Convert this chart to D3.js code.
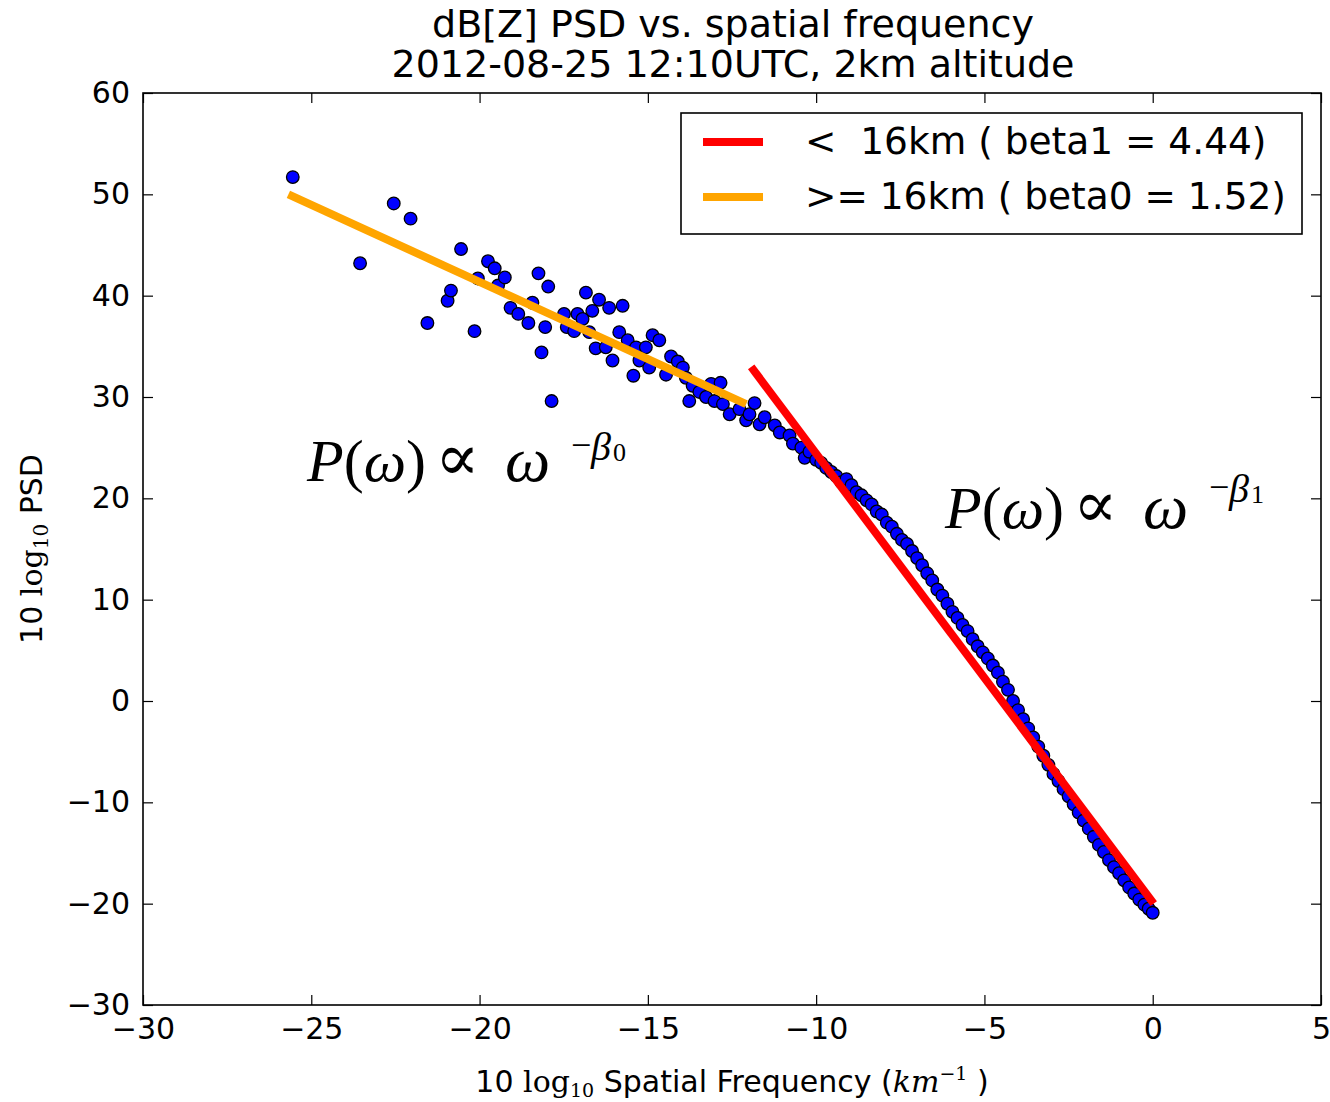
<!DOCTYPE html>
<html>
<head>
<meta charset="utf-8">
<script src="https://cdn.jsdelivr.net/npm/d3@7"></script>
<style>
  body { margin: 0; background: #fff; }
  svg text { font-family: "DejaVu Sans", sans-serif; fill: #000; }
</style>
</head>
<body>
<div id="chart"></div>
<script>
// 10 log10 spatial frequency (x) and 10 log10 PSD (y)
const freqDb = [
  -25.55, -23.55, -22.55, -22.05, -21.55, -20.95, -20.85, -20.55, -20.15, -20.05,
  -19.75, -19.55, -19.45, -19.25, -19.08, -18.85, -18.55, -18.43, -18.25, -18.16,
  -18.05, -17.96, -17.86, -17.49, -17.41, -17.19, -17.09, -16.94, -16.84, -16.74,
  -16.65, -16.55, -16.45, -16.25, -16.15, -16.05, -15.85, -15.75, -15.60, -15.43,
  -15.35, -15.25, -15.06, -14.96, -14.86, -14.66, -14.46, -14.31, -14.11, -13.96,
  -13.87, -13.77, -13.67, -13.47, -13.27, -13.12, -13.02, -12.84, -12.77, -12.57,
  -12.28, -12.08, -11.98, -11.83, -11.68, -11.53, -11.23, -11.08, -10.79, -10.69,
  -10.44, -10.34, -10.20, -10.00, -9.85, -9.70, -9.55, -9.40, -9.25, -9.10,
  -8.95, -8.80, -8.65, -8.50, -8.35, -8.20, -8.05, -7.90, -7.75, -7.60,
  -7.45, -7.30, -7.15, -7.00, -6.85, -6.70, -6.55, -6.40, -6.25, -6.10,
  -5.95, -5.80, -5.65, -5.50, -5.35, -5.20, -5.05, -4.90, -4.75, -4.60,
  -4.45, -4.30, -4.15, -4.00, -3.85, -3.70, -3.55, -3.40, -3.25, -3.10,
  -2.95, -2.80, -2.65, -2.50, -2.35, -2.20, -2.05, -1.90, -1.75, -1.60,
  -1.45, -1.30, -1.15, -1.00, -0.85, -0.70, -0.55, -0.40, -0.25, -0.12,
  0.00
];
const psdDb = [
  51.7, 43.2, 49.1, 47.6, 37.3, 39.5, 40.5, 44.6, 36.5, 41.7,
  43.4, 42.7, 41.0, 41.8, 38.8, 38.2, 37.3, 39.3, 42.2, 34.4,
  36.9, 40.9, 29.6, 38.2, 36.9, 36.5, 38.2, 37.7, 40.3, 36.4,
  38.5, 34.8, 39.6, 34.9, 38.8, 33.6, 36.4, 39.0, 35.6, 32.1,
  34.9, 33.6, 34.9, 32.9, 36.1, 35.6, 32.2, 34.0, 33.5, 32.9,
  31.9, 29.6, 31.1, 30.5, 30.0, 31.3, 29.6, 31.4, 29.3, 28.3,
  28.8, 27.7, 28.3, 29.4, 27.3, 28.0, 27.2, 26.5, 26.2, 25.4,
  25.0, 24.0, 24.6, 23.8, 23.5, 23.0, 22.6, 22.2, 21.6, 21.9,
  21.3, 20.6, 20.3, 19.8, 19.4, 18.7, 18.4, 17.6, 17.2, 16.5,
  15.9, 15.5, 14.8, 14.1, 13.4, 12.6, 11.9, 11.0, 10.4, 9.6,
  8.8, 8.2, 7.5, 6.9, 6.1, 5.4, 4.8, 4.2, 3.5, 2.8,
  1.9, 1.1, 0.0, -0.9, -1.8, -2.7, -3.6, -4.5, -5.4, -6.3,
  -7.2, -7.9, -8.7, -9.4, -10.2, -11.0, -11.8, -12.6, -13.4, -14.2,
  -14.9, -15.7, -16.4, -17.0, -17.7, -18.4, -19.0, -19.6, -20.1, -20.5,
  -20.9
];

// power-law fits: endpoints of each fitted segment
const fitLongX = [-25.68, -12.08];   // >= 16km, beta0
const fitLongY = [50.0, 29.3];
const fitShortX = [-11.93, 0.03];    // < 16km, beta1
const fitShortY = [32.97, -20.0];

const legendLabels = ["<  16km ( beta1 = 4.44)", ">= 16km ( beta0 = 1.52)"];
const legendColors = ["#ff0000", "#ffa500"];

const xTicks = [-30, -25, -20, -15, -10, -5, 0, 5];
const yTicks = [-30, -20, -10, 0, 10, 20, 30, 40, 50, 60];

const W = 1330, H = 1102;
const mLeft = 143, mRight = 1321, mTop = 93, mBottom = 1005;

const svg = d3.select("#chart").append("svg")
  .attr("width", W).attr("height", H);

const x = d3.scaleLinear().domain([-30, 5]).range([mLeft, mRight]);
const y = d3.scaleLinear().domain([-30, 60]).range([mBottom, mTop]);

const tickFont = g => g.selectAll("text").attr("font-size", 30).attr("font-family", "DejaVu Sans");
const tickLines = g => {
  g.select(".domain").remove();
  g.selectAll("line").attr("stroke", "#000").attr("stroke-width", 1.2);
};

svg.append("g").attr("transform", `translate(0,${mBottom})`)
  .call(d3.axisBottom(x).tickValues(xTicks).tickSize(-10).tickPadding(13))
  .call(tickLines).call(tickFont);
svg.append("g").attr("transform", `translate(0,${mTop})`)
  .call(d3.axisTop(x).tickValues(xTicks).tickSize(-10).tickFormat(""))
  .call(tickLines);
svg.append("g").attr("transform", `translate(${mLeft},0)`)
  .call(d3.axisLeft(y).tickValues(yTicks).tickSize(-10).tickPadding(13))
  .call(tickLines).call(tickFont);
svg.append("g").attr("transform", `translate(${mRight},0)`)
  .call(d3.axisRight(y).tickValues(yTicks).tickSize(-10).tickFormat(""))
  .call(tickLines);

// scatter
const pts = d3.zip(freqDb, psdDb);
svg.append("g").selectAll("circle")
  .data(pts)
  .join("circle")
  .attr("cx", d => x(d[0]))
  .attr("cy", d => y(d[1]))
  .attr("r", 6.3)
  .attr("fill", "#0000ff")
  .attr("stroke", "#000")
  .attr("stroke-width", 1.3);

// fit lines
const line = d3.line().x(d => x(d[0])).y(d => y(d[1]));
svg.append("path")
  .attr("d", line(d3.zip(fitShortX, fitShortY)))
  .attr("stroke", legendColors[0]).attr("stroke-width", 8).attr("fill", "none");
svg.append("path")
  .attr("d", line(d3.zip(fitLongX, fitLongY)))
  .attr("stroke", legendColors[1]).attr("stroke-width", 8).attr("fill", "none");

// frame
svg.append("rect")
  .attr("x", mLeft).attr("y", mTop)
  .attr("width", mRight - mLeft).attr("height", mBottom - mTop)
  .attr("fill", "none").attr("stroke", "#000").attr("stroke-width", 1.6);

// legend
const lg = svg.append("g");
lg.append("rect")
  .attr("x", 681).attr("y", 113).attr("width", 621).attr("height", 121)
  .attr("fill", "#fff").attr("stroke", "#000").attr("stroke-width", 1.6);
legendLabels.forEach((lab, i) => {
  const cy = 142 + i * 55;
  lg.append("line").attr("x1", 703).attr("x2", 763).attr("y1", cy).attr("y2", cy)
    .attr("stroke", legendColors[i]).attr("stroke-width", 8);
  lg.append("text").attr("x", 805).attr("y", cy + 12)
    .attr("font-size", 37.5).attr("xml:space", "preserve").text(lab);
});

// title
svg.append("text").attr("x", 733).attr("y", 37).attr("text-anchor", "middle")
  .attr("font-size", 38).text("dB[Z] PSD vs. spatial frequency");
svg.append("text").attr("x", 733).attr("y", 77).attr("text-anchor", "middle")
  .attr("font-size", 38).text("2012-08-25 12:10UTC, 2km altitude");

// x label
const xl = svg.append("text").attr("x", 732).attr("y", 1092).attr("text-anchor", "middle")
  .attr("font-size", 30);
xl.append("tspan").text("10 ");
xl.append("tspan").attr("font-family", "DejaVu Serif").text("log");
xl.append("tspan").attr("font-family", "DejaVu Serif").attr("font-size", 19).attr("dy", 5).text("10");
xl.append("tspan").attr("dy", -5).text(" Spatial Frequency (");
xl.append("tspan").attr("font-family", "DejaVu Serif").attr("font-style", "italic").text("km");
xl.append("tspan").attr("font-family", "DejaVu Serif").attr("font-size", 19).attr("dy", -12).text("−1");
xl.append("tspan").attr("dy", 12).text(" )");

// y label
const yl = svg.append("text").attr("transform", "translate(42,549) rotate(-90)")
  .attr("text-anchor", "middle").attr("font-size", 30);
yl.append("tspan").text("10 ");
yl.append("tspan").attr("font-family", "DejaVu Serif").text("log");
yl.append("tspan").attr("font-family", "DejaVu Serif").attr("font-size", 20).attr("dy", 6).text("10");
yl.append("tspan").attr("dy", -6).text(" PSD");

// power-law annotations
function powerLaw(x0, y0, supY, sub) {
  const g = svg.append("g");
  const t = g.append("text").attr("y", y0).attr("font-size", 60)
    .style("font-family", "Liberation Serif");
  t.append("tspan").attr("x", x0).attr("font-style", "italic").text("P");
  t.append("tspan").text("(");
  t.append("tspan").attr("font-style", "italic").text("ω");
  t.append("tspan").text(")");
  g.append("text").attr("x", x0 + 128).attr("y", y0 - 1).attr("font-size", 66)
    .style("font-family", "DejaVu Serif").text("∝");
  g.append("text").attr("x", x0 + 198).attr("y", y0).attr("font-size", 64)
    .attr("font-style", "italic").style("font-family", "Liberation Serif").text("ω");
  g.append("text").attr("x", x0 + 264).attr("y", supY - 3).attr("font-size", 36)
    .style("font-family", "Liberation Serif").text("−");
  g.append("text").attr("x", x0 + 284).attr("y", supY).attr("font-size", 40)
    .attr("font-style", "italic").style("font-family", "Liberation Serif").text("β");
  g.append("text").attr("x", x0 + 306).attr("y", supY + 1).attr("font-size", 26)
    .style("font-family", "Liberation Serif").text(sub);
}
powerLaw(307, 481, 460, "0");
powerLaw(945, 528, 502, "1");
</script>
</body>
</html>
